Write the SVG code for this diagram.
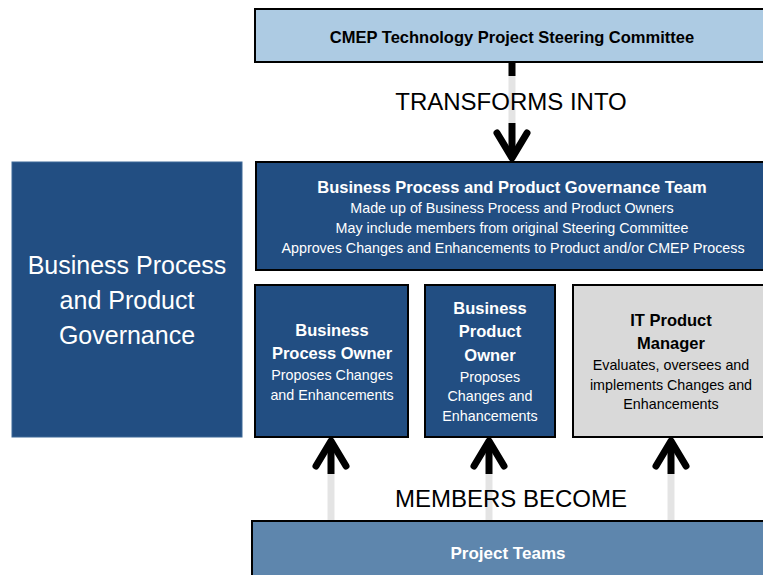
<svg xmlns="http://www.w3.org/2000/svg" width="763" height="575" viewBox="0 0 763 575">
<style>
.box{stroke:#000;stroke-width:2}
.dark{fill:#224e82}
.t{font-family:"Liberation Sans",Arial,sans-serif;text-anchor:middle}
.b{font-weight:bold}
.w{fill:#fff}
.k{fill:#000}
.s{font-size:14.3px}
.h{font-size:16.5px}
.big{font-size:24px}
.shaft{fill:none;stroke:#000;stroke-width:7}
.ghost{fill:none;stroke:#e4e4e4;stroke-width:7}
.head{fill:none;stroke:#000;stroke-width:7;stroke-linecap:round;stroke-linejoin:round}
</style>
<rect width="763" height="575" fill="#fff"/>
<g id="steering">
<rect class="box" x="255" y="9" width="520" height="53" fill="#adcbe3"/>
<text class="t b k h" x="512" y="43">CMEP Technology Project Steering Committee</text>
</g>
<g id="connectors">
<line class="shaft" x1="512" y1="62" x2="512" y2="76"/>
<line class="ghost" x1="512" y1="76" x2="512" y2="123"/>
<line class="shaft" x1="512" y1="123" x2="512" y2="158"/>
<polyline class="head" points="497,133 512,158 527,133"/>
<line class="shaft" x1="331" y1="441" x2="331" y2="474"/>
<line class="ghost" x1="331" y1="474" x2="331" y2="520"/>
<polyline class="head" points="316,466 331,441 346,466"/>
<line class="shaft" x1="489" y1="441" x2="489" y2="474"/>
<line class="ghost" x1="489" y1="474" x2="489" y2="520"/>
<polyline class="head" points="474,466 489,441 504,466"/>
<line class="shaft" x1="671" y1="441" x2="671" y2="474"/>
<line class="ghost" x1="671" y1="474" x2="671" y2="520"/>
<polyline class="head" points="656,466 671,441 686,466"/>
</g>
<g id="label-transforms">
<text class="t k big" x="511" y="110">TRANSFORMS INTO</text>
</g>
<g id="label-members">
<text class="t k big" x="511" y="507">MEMBERS BECOME</text>
</g>
<g id="governance-team">
<rect class="box dark" x="256" y="162" width="520" height="108"/>
<text class="t b w h" x="512" y="193">Business Process and Product Governance Team</text>
<text class="t w s" x="512" y="213">Made up of Business Process and Product Owners</text>
<text class="t w s" x="512" y="233">May include members from original Steering Committee</text>
<text class="t w s" x="513" y="253">Approves Changes and Enhancements to Product and/or CMEP Process</text>
</g>
<g id="governance-label">
<rect x="12" y="162" width="230" height="275" class="dark" stroke="#3d6997" stroke-width="1"/>
<text class="t w" font-size="25" x="127" y="274">Business Process</text>
<text class="t w" font-size="25" x="127" y="309">and Product</text>
<text class="t w" font-size="25" x="127" y="344">Governance</text>
</g>
<g id="process-owner">
<rect class="box dark" x="255" y="285" width="153" height="152"/>
<text class="t b w h" x="332" y="336">Business</text>
<text class="t b w h" x="332" y="359">Process Owner</text>
<text class="t w s" x="332" y="380">Proposes Changes</text>
<text class="t w s" x="332" y="400">and Enhancements</text>
</g>
<g id="product-owner">
<rect class="box dark" x="425" y="285" width="130" height="152"/>
<text class="t b w h" x="490" y="314">Business</text>
<text class="t b w h" x="490" y="337">Product</text>
<text class="t b w h" x="490" y="361">Owner</text>
<text class="t w s" x="490" y="382">Proposes</text>
<text class="t w s" x="490" y="401">Changes and</text>
<text class="t w s" x="490" y="421">Enhancements</text>
</g>
<g id="it-product-manager">
<rect class="box" x="573" y="285" width="200" height="152" fill="#d9d9d9"/>
<text class="t b k h" x="671" y="326">IT Product</text>
<text class="t b k h" x="671" y="349">Manager</text>
<text class="t k s" x="671" y="370">Evaluates, oversees and</text>
<text class="t k s" x="671" y="390">implements Changes and</text>
<text class="t k s" x="671" y="409">Enhancements</text>
</g>
<g id="project-teams">
<rect class="box" x="252" y="521" width="520" height="60" fill="#5e86ad"/>
<text class="t b w" font-size="17" x="508" y="559">Project Teams</text>
</g>
</svg>
